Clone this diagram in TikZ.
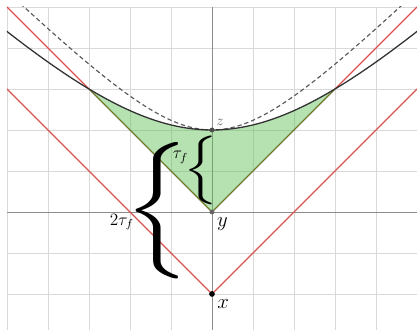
\documentclass[tikz,border=0pt]{standalone}
\usepackage{amsmath,amssymb}
\usepackage{graphicx}
\usepackage{tikz}
\usetikzlibrary{calc,positioning}

\definecolor{conered}{RGB}{220,80,80}
\definecolor{regiongreen}{RGB}{90,190,80}
\definecolor{edgeolive}{RGB}{110,120,40}

\begin{document}
\begin{tikzpicture}[vertex/.style={circle,fill=black,inner sep=1.4pt},
                    gridline/.style={very thin,black!15},
                    axisline/.style={thin,black!45},
                    lightcone/.style={conered,line width=0.8pt},
                    curve/.style={black!80,line width=0.9pt},
                    textnode/.style={inner sep=0pt}]
   \useasboundingbox (-5.17,-2.86) rectangle (5,5.17);
   \begin{scope}
   \clip (-5,-2.86) rectangle (5,5);
   \draw[gridline] (-5,-3) grid (5,5);
   \draw[axisline] (-5,0) -- (5,0);
   \draw[axisline] (0,-3) -- (0,5);
   \coordinate (l) at (-3,3);
   \coordinate (r) at (3,3);
   \fill[regiongreen,fill opacity=0.45] (0,0) -- (l)
        -- plot[domain=-3:3,samples=60] (\x,{sqrt(16+\x*\x)-2}) -- cycle;
   \draw[lightcone] (-5,5) -- (l);
   \draw[lightcone] (r) -- (5,5);
   \draw[lightcone] (-5,3) -- (0,-2) -- (5,3);
   \draw[edgeolive,line width=0.8pt] (l) -- (0,0) -- (r);
   \draw[black!65,line width=0.8pt,dash pattern=on 3pt off 2pt]
        plot[domain=-4.8:4.8,samples=80] (\x,{sqrt(4+\x*\x)});
   \draw[curve] plot[domain=-5.2:5.2,samples=80] (\x,{sqrt(16+\x*\x)-2});
   \end{scope}
   \node[vertex,fill=black!70,inner sep=1.2pt,
         label={[text=black!60,inner sep=1.5pt]above right:$z$}] (z) at (0,2) {};
   \node[vertex,fill=black!60,inner sep=1.2pt,
         label={[font=\Large,inner sep=2pt]below right:$y$}] (y) at (0,0) {};
   \node[vertex,label={[font=\Large,inner sep=2pt]below right:$x$}] (x) at (0,-2) {};
   \node[textnode] (bigbrace) at (-1.33,0.02) {\resizebox*{1.6cm}{3.33cm}{$\Big\{$}};
   \node[textnode] (smallbrace) at (-0.26,1.01) {\resizebox*{0.85cm}{1.68cm}{$\Big\{$}};
   \node[textnode,font=\large] (tf) at (-0.77,1.33) {$\tau_f$};
   \node[textnode,font=\large] (ttf) at (-2.2,-0.25) {$2\tau_f$};
\end{tikzpicture}
\end{document}
